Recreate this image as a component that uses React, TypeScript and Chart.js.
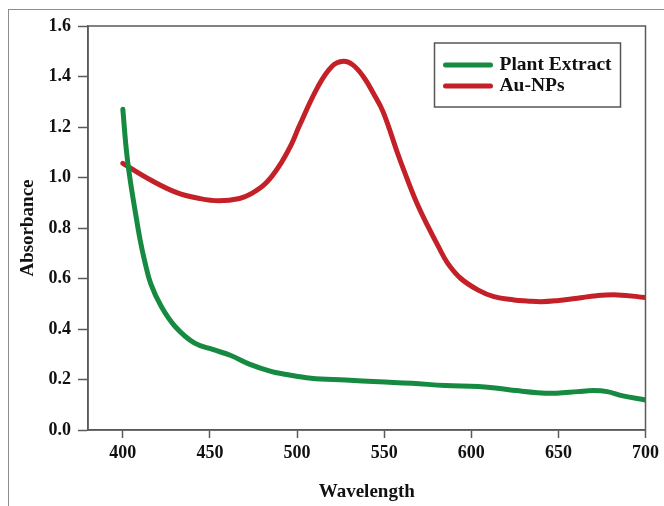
import React, { useEffect, useRef } from "react";
import { Chart, registerables } from "chart.js";

Chart.register(...registerables);

const plantWavelengths = [400, 402, 404, 407, 410, 412.5, 416, 422, 430, 441, 452, 462, 473, 485, 492, 508, 528, 547, 566, 585, 604, 615, 626, 638, 649, 661, 670, 678, 687, 700];
const plantAbsorbance = [1.27, 1.11, 1.0, 0.87, 0.75, 0.67, 0.58, 0.49, 0.41, 0.345, 0.318, 0.295, 0.26, 0.232, 0.222, 0.205, 0.198, 0.191, 0.185, 0.176, 0.172, 0.165, 0.156, 0.148, 0.146, 0.152, 0.156, 0.152, 0.135, 0.119];

const auWavelengths = [400, 416, 431, 444, 455, 467, 474, 482, 489.5, 497, 501, 512, 520, 526.6, 532, 538, 543.7, 549.4, 558, 564, 569, 575, 581, 586.5, 594, 604, 613, 624.5, 632, 640, 649, 661, 672, 684, 700];
const auAbsorbance = [1.056, 0.99, 0.94, 0.917, 0.908, 0.917, 0.937, 0.977, 1.043, 1.135, 1.2, 1.36, 1.44, 1.46, 1.446, 1.4, 1.335, 1.26, 1.09, 0.98, 0.895, 0.808, 0.728, 0.66, 0.6, 0.554, 0.528, 0.515, 0.511, 0.508, 0.512, 0.522, 0.532, 0.535, 0.525];

const xTicks = [400, 450, 500, 550, 600, 650, 700];
const yTicks = [0, 0.2, 0.4, 0.6, 0.8, 1.0, 1.2, 1.4, 1.6];

const seriesLabels = ["Plant Extract", "Au-NPs"];
const GREEN = "#168a40";
const RED = "#c32127";
const AXIS = "#5a5a5a";
const FONT = "'Liberation Serif', 'Times New Roman', serif";

const framePlugin = {
  id: "frameAndLegend",
  afterDatasetsDraw(chart: any) {
    const { ctx, chartArea } = chart;
    ctx.save();
    ctx.strokeStyle = AXIS;
    ctx.lineWidth = 1.5;
    ctx.strokeRect(chartArea.left, chartArea.top, chartArea.right - chartArea.left, chartArea.bottom - chartArea.top);
    const bx = chartArea.right - 211;
    const by = chartArea.top + 17;
    const bw = 186;
    const bh = 64;
    ctx.fillStyle = "#fff";
    ctx.fillRect(bx, by, bw, bh);
    ctx.lineWidth = 1.5;
    ctx.strokeStyle = "#555";
    ctx.strokeRect(bx, by, bw, bh);
    chart.data.datasets.forEach((ds: any, i: number) => {
      const y = by + 22 + i * 21;
      ctx.strokeStyle = ds.borderColor;
      ctx.lineWidth = 5;
      ctx.lineCap = "round";
      ctx.beginPath();
      ctx.moveTo(bx + 11, y);
      ctx.lineTo(bx + 56, y);
      ctx.stroke();
      ctx.fillStyle = "#111";
      ctx.font = `bold 19.5px ${FONT}`;
      ctx.textBaseline = "middle";
      ctx.textAlign = "left";
      ctx.fillText(ds.label, bx + 65, y);
    });
    ctx.restore();
  },
};

export default function App() {
  const ref = useRef<HTMLCanvasElement>(null);
  useEffect(() => {
    if (!ref.current) return;
    const chart = new Chart(ref.current, {
      type: "line",
      data: {
        datasets: [
          {
            label: seriesLabels[0],
            data: plantWavelengths.map((x, i) => ({ x, y: plantAbsorbance[i] })),
            borderColor: GREEN,
            backgroundColor: GREEN,
            borderWidth: 5,
            pointRadius: 0,
            tension: 0.4,
            borderCapStyle: "round",
            borderJoinStyle: "round",
          },
          {
            label: seriesLabels[1],
            data: auWavelengths.map((x, i) => ({ x, y: auAbsorbance[i] })),
            borderColor: RED,
            backgroundColor: RED,
            borderWidth: 5,
            pointRadius: 0,
            tension: 0.4,
            borderCapStyle: "round",
            borderJoinStyle: "round",
          },
        ],
      },
      options: {
        responsive: false,
        animation: false,
        devicePixelRatio: 1,
        layout: { padding: { top: 26, right: 15, left: 0, bottom: 0 } },
        plugins: { legend: { display: false }, tooltip: { enabled: false } },
        scales: {
          x: {
            type: "linear",
            min: 380,
            max: 700,
            afterFit: (s: any) => { s.height = 76; },
            afterBuildTicks: (s: any) => { s.ticks = xTicks.map((v) => ({ value: v })); },
            grid: { drawOnChartArea: false, color: AXIS, tickLength: 8, tickWidth: 1.5 },
            border: { color: AXIS, width: 1.5 },
            ticks: { color: "#111", font: { family: FONT, size: 18, weight: "bold" }, padding: 5, maxRotation: 0 },
            title: { display: true, text: "Wavelength", color: "#111", font: { family: FONT, size: 19, weight: "bold" }, padding: { top: 0, bottom: 3 } },
          },
          y: {
            type: "linear",
            min: 0,
            max: 1.6,
            afterFit: (s: any) => { s.width = 88; },
            afterBuildTicks: (s: any) => { s.ticks = yTicks.map((v) => ({ value: v })); },
            grid: { drawOnChartArea: false, color: AXIS, tickLength: 10, tickWidth: 1.5 },
            border: { color: AXIS, width: 1.5 },
            ticks: { color: "#111", font: { family: FONT, size: 18, weight: "bold" }, padding: 7, callback: (v: any) => Number(v).toFixed(1) },
            title: { display: true, text: "Absorbance", color: "#111", font: { family: FONT, size: 19, weight: "bold" }, padding: { top: 17, bottom: 0 } },
          },
        },
      },
      plugins: [framePlugin],
    } as any);
    return () => chart.destroy();
  }, []);
  return (
    <div style={{ position: "absolute", left: 0, top: 0, width: 664, height: 506, overflow: "hidden", background: "#fff" }}>
      <div style={{ position: "absolute", left: 8, top: 9, width: 720, height: 620, border: "1px solid #8c8c8c" }} />
      <canvas ref={ref} width={664} height={506} style={{ position: "absolute", left: 0, top: 0, width: 664, height: 506 }} />
    </div>
  );
}
